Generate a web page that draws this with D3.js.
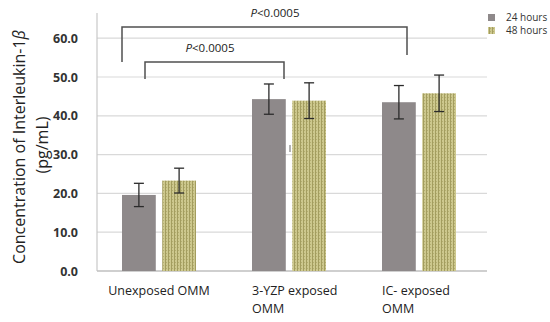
<!DOCTYPE html>
<html>
<head>
<meta charset="utf-8">
<script src="https://cdn.jsdelivr.net/npm/d3@7"></script>
<style>
  body { margin: 0; background: #fff; }
  svg { display: block; }
</style>
</head>
<body>
<div id="chart"></div>
<script>
let width = 550;
let height = 322;

// data
let groups = ["Unexposed OMM", "3-YZP exposed OMM", "IC- exposed OMM"];
let groupLines = [["Unexposed OMM"], ["3-YZP exposed", "OMM"], ["IC- exposed", "OMM"]];
let seriesNames = ["24 hours", "48 hours"];
let values24 = [19.6, 44.3, 43.5];
let values48 = [23.3, 43.9, 45.8];
let err24 = [3.0, 3.9, 4.3];
let err48 = [3.2, 4.6, 4.7];
let yTicks = [0, 10, 20, 30, 40, 50, 60];
let pvals = ["P<0.0005", "P<0.0005"];

// layout
let plot_left = 97;
let plot_right = 487;
let plot_top = 13;
let y0 = 271;
let gray_color = "#8e898a";
let axis_text = "#333";

let svg = d3.select("#chart").append("svg")
  .attr("width", width)
  .attr("height", height);

let defs = svg.append("defs");
let pat = defs.append("pattern")
  .attr("id", "khaki")
  .attr("patternUnits", "userSpaceOnUse")
  .attr("width", 3).attr("height", 3);
pat.append("rect").attr("width", 3).attr("height", 3).attr("fill", "#cdc88e");
pat.append("rect").attr("x", 0).attr("width", 1).attr("height", 3).attr("fill", "#a39d5f");
pat.append("rect").attr("x", 1).attr("y", 1).attr("width", 1).attr("height", 1).attr("fill", "#b3ad70");

let x = d3.scaleBand().domain(groups).range([plot_left, plot_right]).paddingInner(0).paddingOuter(0);
let xs = d3.scaleBand().domain(seriesNames).range([0, 74]).paddingInner(0.16);
let y = d3.scaleLinear().domain([0, 60]).range([y0, y0 - 60 * 3.88]);

// grid lines
svg.append("g").selectAll("line")
  .data(yTicks.filter(d => d > 0))
  .enter().append("line")
  .attr("x1", plot_left).attr("x2", plot_right)
  .attr("y1", d => y(d)).attr("y2", d => y(d))
  .style("stroke", "#d9d9d9").style("stroke-width", 1.2);

// y axis
let yAxis = d3.axisLeft(y).tickValues(yTicks).tickFormat(d3.format(".1f")).tickSize(0).tickPadding(19);
let yg = svg.append("g").attr("transform", "translate(" + plot_left + ",0)").call(yAxis);
yg.select(".domain").remove();
yg.selectAll("text")
  .style("font-family", "'Open Sans', sans-serif")
  .style("font-size", "12.5px")
  .style("font-weight", "bold")
  .style("fill", axis_text);

// axis lines
svg.append("line")
  .attr("x1", plot_left).attr("x2", plot_left)
  .attr("y1", plot_top).attr("y2", y0)
  .style("stroke", "#c8c8c8").style("stroke-width", 1.2);
svg.append("line")
  .attr("x1", plot_left).attr("x2", plot_right)
  .attr("y1", y0).attr("y2", y0)
  .style("stroke", "#bfbfbf").style("stroke-width", 1.5);

// bars
let rows = [];
groups.forEach((g, i) => {
  rows.push({ g: g, s: seriesNames[0], v: values24[i], e: err24[i] });
  rows.push({ g: g, s: seriesNames[1], v: values48[i], e: err48[i] });
});
let barX = d => x(d.g) + (x.bandwidth() - 74) / 2 - 3 + xs(d.s);

svg.append("g").selectAll("rect")
  .data(rows)
  .enter().append("rect")
  .attr("x", barX)
  .attr("y", d => y(d.v))
  .attr("width", xs.bandwidth())
  .attr("height", d => y0 - y(d.v))
  .attr("fill", d => d.s === seriesNames[0] ? gray_color : "url(#khaki)");

// error bars
let eg = svg.append("g").style("stroke", "#2b2b2b").style("stroke-width", 1.3);
rows.forEach(d => {
  let cx = barX(d) + xs.bandwidth() / 2;
  eg.append("line").attr("x1", cx).attr("x2", cx).attr("y1", y(d.v + d.e)).attr("y2", y(d.v - d.e));
  eg.append("line").attr("x1", cx - 5).attr("x2", cx + 5).attr("y1", y(d.v + d.e)).attr("y2", y(d.v + d.e));
  eg.append("line").attr("x1", cx - 5).attr("x2", cx + 5).attr("y1", y(d.v - d.e)).attr("y2", y(d.v - d.e));
});

// small stray mark
svg.append("line").attr("x1", 290).attr("x2", 290).attr("y1", 145).attr("y2", 152)
  .style("stroke", "#999").style("stroke-width", 1.5);

// significance brackets
let br = svg.append("g").style("fill", "none").style("stroke", "#505050").style("stroke-width", 1.5);
br.append("path").attr("d", "M122," + 62 + "V" + 27 + "H407V" + 55);
br.append("path").attr("d", "M145," + 79 + "V" + 62 + "H284V" + 79);

let ptxt = [{ x: 275, y: 17, t: pvals[0] }, { x: 210, y: 52, t: pvals[1] }];
ptxt.forEach(p => {
  let t = svg.append("text")
    .attr("x", p.x).attr("y", p.y)
    .attr("text-anchor", "middle")
    .style("font-family", "'Open Sans', sans-serif")
    .style("font-size", "11.5px")
    .style("fill", "#222");
  t.append("tspan").style("font-style", "italic").text(p.t[0]);
  t.append("tspan").text(p.t.slice(1));
});

// x labels
groups.forEach((g, i) => {
  let cx = x(g) + x.bandwidth() / 2 - 3;
  let lines = groupLines[i];
  let t = svg.append("text")
    .attr("y", 295)
    .style("font-family", "'Open Sans', sans-serif")
    .style("font-size", "12.5px")
    .style("fill", "#222");
  t.append("tspan").text(lines[0]);
  let w = t.node().getComputedTextLength();
  let sx = i === 0 ? cx - w / 2 : barX(rows[i * 2]);
  t.attr("x", sx);
  t.select("tspan").attr("x", sx);
  if (lines.length > 1) {
    t.append("tspan").attr("x", sx).attr("dy", 18).text(lines[1]);
  }
});

// y axis title
let yt = svg.append("text")
  .attr("transform", "translate(25,147) rotate(-90)")
  .attr("text-anchor", "middle")
  .style("font-family", "'Open Sans', sans-serif")
  .style("font-size", "16px")
  .style("fill", "#222");
yt.append("tspan").text("Concentration of Interleukin-1");
yt.append("tspan").style("font-style", "italic").text("β");
svg.append("text")
  .attr("transform", "translate(48,145) rotate(-90)")
  .attr("text-anchor", "middle")
  .style("font-family", "'Open Sans', sans-serif")
  .style("font-size", "16px")
  .style("fill", "#222")
  .text("(pg/mL)");

// legend
let lg = svg.append("g");
seriesNames.forEach((s, i) => {
  lg.append("rect")
    .attr("x", 488).attr("y", 14 + i * 13)
    .attr("width", 7).attr("height", 7)
    .attr("fill", i === 0 ? gray_color : "url(#khaki)");
  lg.append("text")
    .attr("x", 506).attr("y", 21 + i * 13)
    .style("font-family", "'Open Sans', sans-serif")
    .style("font-size", "10px")
    .style("fill", "#333")
    .text(s);
});
</script>
</body>
</html>
